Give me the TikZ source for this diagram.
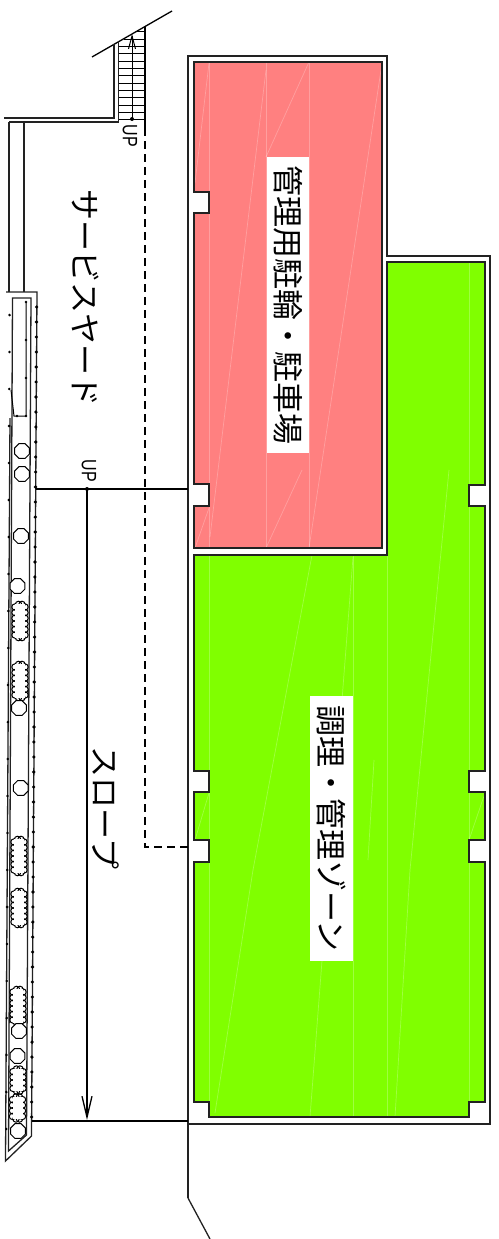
\documentclass[tikz,border=0pt]{standalone}
\usepackage{fontspec}
\setmainfont{Liberation Sans}
\newfontfamily\cjk{Noto Sans CJK JP}
\usepackage{xcolor}
\usepackage{graphicx}
\usetikzlibrary{arrows.meta, shapes.geometric}
\definecolor{staffpink}{HTML}{FF8080}
\definecolor{kitchengreen}{HTML}{80FF00}
\definecolor{wallgrey}{HTML}{222222}

\begin{document}
\begin{tikzpicture}[x=1pt, y=-1pt, line width=1.3pt,
  wall/.style={draw=wallgrey},
  room label/.style={fill=white, rotate=-90, inner sep=0pt, font=\cjk\fontsize{31}{31}\selectfont},
  yard label/.style={rotate=-90, inner sep=0pt, font=\cjk\fontsize{31}{31}\selectfont},
  up label/.style={rotate=-90, inner sep=0pt, font=\fontsize{16}{16}\selectfont},
  post/.style={regular polygon, regular polygon sides=8, draw, fill=white, line width=1pt, inner sep=0pt, minimum size=16pt},
  seam/.style={white, opacity=0.25, line width=0.7pt},
  ramp arrow/.style={-{Straight Barb[length=21pt, width=10pt]}}]

\useasboundingbox (0,0) rectangle (498,1239);

% rooms
\fill[staffpink] (194,62) -- (382,62) -- (382,548) -- (194,548) -- (194,506) -- (209,506) -- (209,484)
  -- (194,484) -- (194,213) -- (209,213) -- (209,192) -- (194,192) -- cycle;
\fill[kitchengreen] (194,555) -- (387,555) -- (387,262) -- (485,262) -- (485,485) -- (469,485) -- (469,506)
  -- (485,506) -- (485,771) -- (469,771) -- (469,792) -- (485,792) -- (485,840) -- (469,840) -- (469,862)
  -- (485,862) -- (485,1102) -- (469,1102) -- (469,1117) -- (209,1117) -- (209,1102) -- (194,1102)
  -- (194,862) -- (209,862) -- (209,840) -- (194,840) -- (194,792) -- (209,792) -- (209,771) -- (194,771) -- cycle;

% seams in the fill
\foreach \xa/\ya/\xb/\yb in {209/62/209/548, 266/62/266/548, 309/62/309/548, 309/62/266/157, 381/70/309/548,
  209/63/195/183, 266/70/210/537, 302/470/266/548, 209/508/195/548}
  \draw[seam] (\xa,\ya) -- (\xb,\yb);
\foreach \xa/\ya/\xb/\yb in {209/555/209/1117, 353/555/353/1117, 387/555/387/1117, 469/262/469/1102,
  449/470/410/870, 410/870/395/1117, 312/555/253/870, 253/870/215/1113,
  353/557/310/1117, 374/760/368/860, 209/793/195/840, 485/793/469/840}
  \draw[seam] (\xa,\ya) -- (\xb,\yb);

% room outlines
\draw[wall] (194,62) -- (382,62) -- (382,548) -- (194,548) -- (194,506) -- (209,506) -- (209,484)
  -- (194,484) -- (194,213) -- (209,213) -- (209,192) -- (194,192) -- cycle;
\draw[wall] (194,555) -- (387,555) -- (387,262) -- (485,262) -- (485,485) -- (469,485) -- (469,506)
  -- (485,506) -- (485,771) -- (469,771) -- (469,792) -- (485,792) -- (485,840) -- (469,840) -- (469,862)
  -- (485,862) -- (485,1102) -- (469,1102) -- (469,1117) -- (209,1117) -- (209,1102) -- (194,1102)
  -- (194,862) -- (209,862) -- (209,840) -- (194,840) -- (194,792) -- (209,792) -- (209,771) -- (194,771) -- cycle;

% outer wall
\coordinate (wallTop) at (188,56);
\coordinate (wallFoot) at (188,1198);
\coordinate (wallEnd) at (210,1239);
\coordinate (wallCorner) at (188,1124);
\draw[wall] (wallFoot) -- (wallTop) -- (387,56) -- (387,256) -- (490,256) -- (490,1124) -- (wallCorner);
\draw[wall] (wallFoot) -- (wallEnd);

% stairs
\coordinate (slopeA) at (92,57);
\coordinate (slopeB) at (172,11);
\coordinate (stairFoot) at (132,119);
\coordinate (stairHead) at (132,34);
\coordinate (dashCorner) at (145,847);
\coordinate (dashEnd) at (188,847);
\draw (slopeA) -- (slopeB);
\draw[wall] (4,118) -- (114,118) -- (114,44);
\draw[wall] (9,122) -- (118.5,122) -- (118.5,41);
\foreach \y in {46.6,53.9,61.2,68.5,75.8,83.1,90.4,97.7,105,112.3,119.6}
  \draw[line width=1pt] (118.5,\y) -- (145,\y);
\draw[line width=1pt] (124,39.3) -- (145,39.3);
\draw[line width=1pt] (136,32) -- (145,32);
\draw (145,26) -- (145,128);
\draw[dash pattern=on 8pt off 5pt] (145,128) -- (dashCorner) -- (dashEnd);
\draw[-{Straight Barb[length=13pt, width=7pt]}, line width=1pt] (stairFoot) -- (stairHead);
\fill (stairFoot) circle (2pt);
\node[up label] (upStair) at (130,136) {\scalebox{1}[1.3]{UP}};

% planting strip
\draw[wall] (9,122) -- (9,292);
\draw[wall] (24,122) -- (24,292);
\draw[wall] (6,292) -- (37,292) -- (31.5,1136) -- (5.5,1161) -- (10,418);
\draw[wall] (31,298) -- (26.5,1135) -- (8.5,1151) -- (12.5,298) -- cycle;
\draw[line width=1pt] (26,302) -- (26,416) -- (14,416) -- (11,390);
\foreach \y in {307,322,...,1118}
  \fill ({36.6-(\y-307)*0.0062},\y) circle (1.8pt);
\foreach \y in {315,352,...,1160}
  \fill ({9.6-(\y-315)*0.0042},\y) circle (1.4pt);
\foreach \x/\y in {26/302, 26/340, 26/378, 26/416, 17/416}
  \fill (\x,\y) circle (1.4pt);

% shrubs: scallops, then the inside cleared
\foreach \x/\y/\n in {20/621/6, 20/681/6, 19/856/6, 19/908/6, 18/1006/6, 18/1080/4, 17.5/1108/4} {
  \foreach \k in {1,...,\n} {
    \draw[line width=1pt] (\x-5,{\y+(\k-(\n+1)/2)*5.6}) circle (3.2pt);
    \draw[line width=1pt] (\x+5,{\y+(\k-(\n+1)/2)*5.6}) circle (3.2pt);
  }
  \draw[line width=1pt] (\x-1.5,{\y-(\n+1)/2*5.6+3}) circle (3.2pt);
  \draw[line width=1pt] (\x+2,{\y-(\n+1)/2*5.6+3}) circle (3.2pt);
  \draw[line width=1pt] (\x-1.5,{\y+(\n+1)/2*5.6-3}) circle (3.2pt);
  \draw[line width=1pt] (\x+2,{\y+(\n+1)/2*5.6-3}) circle (3.2pt);
  \fill[white] (\x-5,{\y-(\n+1)/2*5.6+3}) rectangle (\x+5,{\y+(\n+1)/2*5.6-3});
}

\node[post] (postA) at (22,451) {};
\node[post] (postB) at (22,474) {};
\node[post] (postC) at (21,536) {};
\node[post] (postD) at (17.5,586) {};
\node[post] (postE) at (19,708) {};
\node[post] (postF) at (20.7,788) {};
\node[post] (postG) at (19,1031) {};
\node[post] (postH) at (17.5,1056) {};
\node[post] (postI) at (18,1131) {};

% ramp
\coordinate (rampTop) at (87,489);
\coordinate (rampFoot) at (87,1120);
\draw (36,489) -- (188,489);
\draw (32,1121) -- (188,1121);
\draw[ramp arrow] (rampTop) -- (rampFoot);
\fill (rampTop) circle (2pt);
\node[up label] (upRamp) at (89,471) {\scalebox{1}[1.3]{UP}};

% labels
\node[room label, minimum width=296pt, minimum height=42pt] (parking) at (288,305) {管理用駐輪・駐車場};
\node[room label, minimum width=265pt, minimum height=43pt] (kitchen) at (331.5,828.5) {調理・管理ゾーン};
\node[yard label] (yard) at (86,298) {サービスヤード};
\node[yard label] (ramp) at (106,808) {スロープ};
\end{tikzpicture}
\end{document}
